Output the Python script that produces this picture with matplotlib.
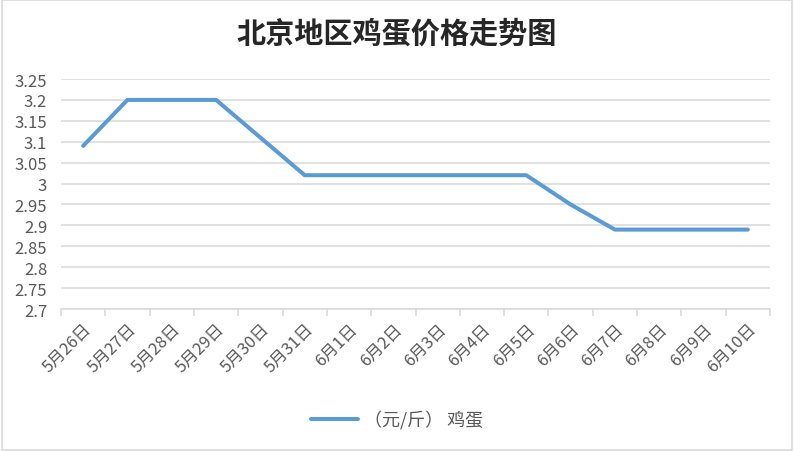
import matplotlib
matplotlib.use("Agg")
import matplotlib.pyplot as plt
from matplotlib.patches import Rectangle

plt.rcParams['font.family'] = ['Noto Sans CJK SC', 'DejaVu Sans']

categories = ["5月26日", "5月27日", "5月28日", "5月29日", "5月30日", "5月31日",
              "6月1日", "6月2日", "6月3日", "6月4日", "6月5日", "6月6日",
              "6月7日", "6月8日", "6月9日", "6月10日"]
values = [3.09, 3.20, 3.20, 3.20, 3.11, 3.02, 3.02, 3.02, 3.02, 3.02, 3.02,
          2.95, 2.89, 2.89, 2.89, 2.89]
yticks = [2.7, 2.75, 2.8, 2.85, 2.9, 2.95, 3.0, 3.05, 3.1, 3.15, 3.2, 3.25]
ytick_labels = ["2.7", "2.75", "2.8", "2.85", "2.9", "2.95", "3", "3.05", "3.1", "3.15", "3.2", "3.25"]
series_name = "（元/斤） 鸡蛋"
title = "北京地区鸡蛋价格走势图"

fig = plt.figure(figsize=(7.94, 4.52), dpi=100)
fig.patches.append(Rectangle((0.002, 0.002), 0.996, 0.996, transform=fig.transFigure,
                             fill=False, edgecolor='#d9d9d9', linewidth=1.2))
ax = fig.add_axes([0.0768, 0.314, 0.893, 0.509])

x = list(range(len(categories)))
ax.plot(x, values, color='#5b9bd5', linewidth=2.9, solid_capstyle='round',
        solid_joinstyle='round', label=series_name)

ax.set_xlim(-0.5, len(categories) - 0.5)
ax.set_ylim(2.7, 3.25)
ax.set_yticks(yticks)
ax.set_yticklabels(ytick_labels, fontsize=12, color='#595959')
ax.tick_params(axis='y', length=0, pad=10)
ax.yaxis.grid(True, color='#d9d9d9', linewidth=1.1)
ax.set_axisbelow(True)

# category boundaries ticks
ax.set_xticks([i - 0.5 for i in range(len(categories) + 1)])
ax.set_xticklabels([])
ax.tick_params(axis='x', which='major', length=5, color='#d9d9d9', width=1.1)
ax.set_xticks(x, minor=True)
ax.set_xticklabels(categories, minor=True, rotation=45, ha='right', va='top',
                   rotation_mode='anchor', fontsize=12, color='#595959')
ax.tick_params(axis='x', which='minor', length=0, pad=8)

for s in ['top', 'right', 'left']:
    ax.spines[s].set_visible(False)
ax.spines['bottom'].set_color('#d9d9d9')
ax.spines['bottom'].set_linewidth(1.1)

fig.text(0.5, 0.925, title, ha='center', va='center', fontsize=21,
         color='#262626', fontweight='bold')

leg = fig.legend(loc='center', bbox_to_anchor=(0.5, 0.07), frameon=False,
                 fontsize=13, handlelength=2.6, handletextpad=0.3)
for t in leg.get_texts():
    t.set_color('#595959')

fig.savefig("out.png", dpi=100)
